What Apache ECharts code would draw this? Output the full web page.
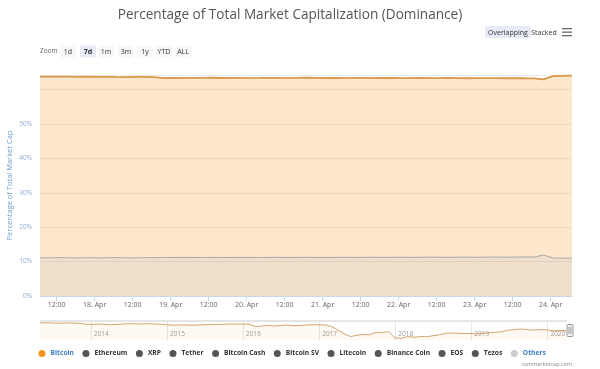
<!DOCTYPE html>
<html><head><meta charset="utf-8">
<script src="https://cdn.jsdelivr.net/npm/echarts@6/dist/echarts.min.js"></script>
<style>html,body{margin:0;padding:0;background:#fff}#c{width:600px;height:369px}</style>
</head><body><div id="c"></div><script>
// ---- data ----
const startHour = 6.75;          // hours after 17 Apr 00:00
const stepHours = 3;
const bitcoin = [63.78,63.75,63.8,63.76,63.72,63.74,63.7,63.73,63.69,63.66,63.7,63.68,63.64,
  63.32,63.38,63.35,63.42,63.4,63.45,63.38,63.4,63.43,63.37,63.4,63.44,63.4,63.36,63.41,63.45,63.42,63.38,
  63.4,63.36,63.42,63.39,63.35,63.4,63.38,63.33,63.37,63.41,63.36,63.34,63.38,63.35,63.3,63.34,63.37,63.32,63.3,63.35,63.31,63.28,
  63.0,63.95,64.02,64.05];
const others = [11.12,11.1,11.14,11.11,11.08,11.13,11.1,11.12,11.15,11.11,11.09,11.13,11.16,
  11.2,11.18,11.22,11.19,11.17,11.21,11.2,11.18,11.23,11.2,11.19,11.22,11.24,11.2,11.21,11.25,11.22,11.19,
  11.23,11.26,11.22,11.24,11.27,11.23,11.25,11.28,11.24,11.26,11.3,11.27,11.25,11.29,11.31,11.27,11.3,11.33,11.29,11.32,11.35,11.3,
  11.9,11.05,11.02,11.0];
const tickHours = [12,24,36,48,60,72,84,96,108,120,132,144,156,168];
const dayNames = {24:'18. Apr',48:'19. Apr',72:'20. Apr',96:'21. Apr',120:'22. Apr',144:'23. Apr',168:'24. Apr'};
const yTicks = ['0%','10%','20%','30%','40%','50%'];

// navigator: monthly Bitcoin dominance, May 2013 .. Apr 2020
const navStart = 2013.33, navStep = 1/12;
const navBitcoin = [
  94,95,94,93,94,94,93,90,
  88,90,89,87,88,90,91,91,90,91,90,89,
  87,85,86,86,85,86,87,88,88,89,90,90,
  90,89,80,82,84,82,84,86,83,84,86,87,
  87,86,80,66,50,40,45,48,47,57,55,60,
  35,33,40,37,40,39,43,47,53,54,53,52,
  52,51,53,55,57,60,66,68,70,67,66,68,
  66,63,64,64];
const years = [2014,2015,2016,2017,2018,2019,2020];
const legendNames = ['Bitcoin','Ethereum','XRP','Tether','Bitcoin Cash','Bitcoin SV','Litecoin','Binance Coin','EOS','Tezos','Others'];

// ---- build ----
const toPairs = (arr, s, st) => arr.map((v, i) => [s + i * st, v]);
const FONT = "'Open Sans', sans-serif";
const chart = echarts.init(document.getElementById('c'), null, {renderer: 'canvas'});

const hiddenSeries = legendNames.filter(n => n !== 'Bitcoin' && n !== 'Others').map(n => ({
  name: n, type: 'line', data: [], itemStyle: {color: '#555'}, xAxisIndex: 0, yAxisIndex: 0
}));

const zoomBtns = [['1d',68],['7d',88],['1m',106],['3m',126],['1y',145],['YTD',164],['ALL',183]];
const graphics = [
  {type:'text', style:{x:290, y:15, text:'Percentage of Total Market Capitalization (Dominance)', textAlign:'center', textVerticalAlign:'middle', font:"13.6px 'Open Sans', sans-serif", fill:'#555'}},
  {type:'rect', shape:{x:485, y:26, width:46, height:12, r:2}, style:{fill:'#e6ebf5'}},
  {type:'text', style:{x:508, y:32.5, text:'Overlapping', textAlign:'center', textVerticalAlign:'middle', font:"7px 'Open Sans', sans-serif", fill:'#333'}},
  {type:'text', style:{x:544, y:32.5, text:'Stacked', textAlign:'center', textVerticalAlign:'middle', font:"7px 'Open Sans', sans-serif", fill:'#333'}},
  {type:'rect', shape:{x:562, y:28, width:10, height:1.3}, style:{fill:'#666'}},
  {type:'rect', shape:{x:562, y:31.5, width:10, height:1.3}, style:{fill:'#666'}},
  {type:'rect', shape:{x:562, y:35, width:10, height:1.3}, style:{fill:'#666'}},
  {type:'text', style:{x:40, y:51.5, text:'Zoom', textAlign:'left', textVerticalAlign:'middle', font:"6.5px 'Open Sans', sans-serif", fill:'#666'}},
  {type:'line', shape:{x1:40, y1:321, x2:567, y2:321}, style:{stroke:'#cccccc', lineWidth:1}},
  {type:'rect', shape:{x:567, y:324.5, width:6, height:12, r:1}, style:{fill:'#f2f2f2', stroke:'#999', lineWidth:1}},
  {type:'line', shape:{x1:569, y1:327, x2:569, y2:334}, style:{stroke:'#999', lineWidth:1}},
  {type:'line', shape:{x1:571, y1:327, x2:571, y2:334}, style:{stroke:'#999', lineWidth:1}},
  {type:'text', style:{x:572, y:364, text:'coinmarketcap.com', textAlign:'right', textVerticalAlign:'middle', font:"5.5px 'Open Sans', sans-serif", fill:'#888'}}
];
zoomBtns.forEach(([t, cx]) => {
  const sel = t === '7d';
  graphics.push({type:'rect', shape:{x:cx - 8, y:45.5, width:16, height:12, r:2}, style:{fill: sel ? '#e6ebf5' : '#f7f7f7'}});
  graphics.push({type:'text', style:{x:cx, y:51.5, text:t, textAlign:'center', textVerticalAlign:'middle', font:(sel ? 'bold ' : '') + "7px 'Open Sans', sans-serif", fill:'#333'}});
});

const option = {
  animation: false,
  textStyle: {fontFamily: FONT},
  grid: [
    {left: 40, top: 75, width: 532, height: 221, containLabel: false, outerBoundsMode: 'none'},
    {left: 40, top: 321, width: 531, height: 19, containLabel: false, outerBoundsMode: 'none'}
  ],
  xAxis: [
    {type:'value', gridIndex:0, min:startHour, max:startHour + stepHours * (bitcoin.length - 1),
     axisLine:{show:true, lineStyle:{color:'#ccd6eb'}},
     axisTick:{show:true, customValues:tickHours, length:5, lineStyle:{color:'#ccd6eb'}},
     axisLabel:{customValues:tickHours, fontSize:7, color:'#666', margin:5,
       formatter: v => dayNames[v] || '12:00'},
     splitLine:{show:false}},
    {type:'value', gridIndex:1, min:navStart, max:2020.31,
     axisLine:{show:false}, axisTick:{show:false, customValues:years},
     axisLabel:{customValues:years, inside:true, align:'left', padding:[0,0,0,3], fontSize:6.5, color:'#999', margin:2,
       formatter: v => String(Math.round(v))},
     splitLine:{show:true, lineStyle:{color:'#e6e6e6'}}}
  ],
  yAxis: [
    {type:'value', gridIndex:0, min:0, max:64.25, interval:10,
     axisLine:{show:false}, axisTick:{show:false},
     axisLabel:{fontSize:6.5, color:'#8eaad3', margin:8,
       formatter: v => (v % 10 === 0 && yTicks[v / 10]) ? yTicks[v / 10] : ''},
     splitLine:{lineStyle:{color:'#e9e9e9', width:1}},
     name:'Percentage of Total Market Cap', nameLocation:'middle', nameGap:26, nameRotate:90, nameMoveOverlap:false,
     nameTextStyle:{fontSize:7.5, color:'#6b9bd2'}},
    {type:'value', gridIndex:1, min:26, max:102, show:false, splitLine:{show:false}}
  ],
  legend: {
    left: 38.5, top: 350, padding: 0, itemWidth: 7, itemHeight: 7, itemGap: 8.5, icon: 'circle',
    textStyle: {fontSize: 6.7, fontWeight: 'bold', color: '#333', fontFamily: FONT},
    data: legendNames.map(n => (n === 'Bitcoin' || n === 'Others') ? {name: n, textStyle: {color: '#3f7cc4'}} : {name: n})
  },
  graphic: graphics,
  series: [
    {name:'Bitcoin', type:'line', xAxisIndex:0, yAxisIndex:0, data: toPairs(bitcoin, startHour, stepHours),
     showSymbol:false, symbol:'none', itemStyle:{color:'#f7931a'},
     lineStyle:{color:'#d8994a', width:1.8}, areaStyle:{color:'#f7931a', opacity:0.22}},
    ...hiddenSeries,
    {name:'Others', type:'line', xAxisIndex:0, yAxisIndex:0, data: toPairs(others, startHour, stepHours),
     showSymbol:false, symbol:'none', itemStyle:{color:'#cccccc'},
     lineStyle:{color:'#a9a9a9', width:1}, areaStyle:{color:'#b4b8c4', opacity:0.18}},
    {name:'nav', type:'line', xAxisIndex:1, yAxisIndex:1, data: toPairs(navBitcoin, navStart, navStep),
     showSymbol:false, symbol:'none', lineStyle:{color:'#d3a46e', width:1}, areaStyle:{color:'#f7931a', opacity:0.05}}
  ]
};
chart.setOption(option);
</script></body></html>
